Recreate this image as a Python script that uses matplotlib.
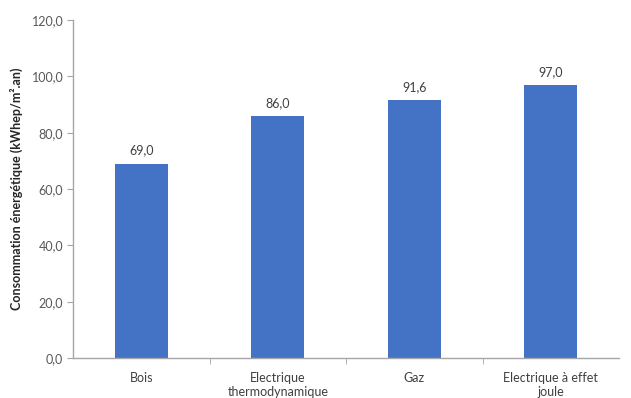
import matplotlib.pyplot as plt
from matplotlib.ticker import FixedLocator

categories = ["Bois", "Electrique\nthermodynamique", "Gaz", "Electrique à effet\njoule"]
values = [69.0, 86.0, 91.6, 97.0]
yticks = [0, 20, 40, 60, 80, 100, 120]


def fr(v):
    return f"{v:.1f}".replace(".", ",")


plt.rcParams['font.family'] = ['Lato', 'DejaVu Sans']

fig = plt.figure(figsize=(6.31, 3.98), dpi=100)
ax = fig.add_axes([73 / 631, 40 / 398, 546 / 631, 338 / 398])

x = list(range(len(categories)))
bars = ax.bar(x, values, width=0.39, color='#4472C4', zorder=2)
for b, v in zip(bars, values):
    ax.text(b.get_x() + b.get_width() / 2, v + 2.5, fr(v), ha='center', va='bottom',
            fontsize=9, color='#404040')

ax.set_xlim(-0.5, len(categories) - 0.5)
ax.set_ylim(0, 120)
ax.set_yticks(yticks)
ax.set_yticklabels([fr(t) for t in yticks], fontsize=9, color='#595959')

# category labels drawn as centred text under each bar
ax.set_xticks(x)
ax.set_xticklabels([])
ax.tick_params(axis='x', length=0)
for i, c in enumerate(categories):
    ax.text(i, -5, c, ha='center', va='top', multialignment='center',
            fontsize=9, color='#404040', linespacing=1.15)
ax.xaxis.set_minor_locator(FixedLocator([i + 0.5 for i in range(len(categories) - 1)]))
ax.tick_params(axis='x', which='minor', length=4, color='#A6A6A6')
ax.tick_params(axis='y', length=4, color='#A6A6A6', pad=3)

for s in ['top', 'right']:
    ax.spines[s].set_visible(False)
for s in ['left', 'bottom']:
    ax.spines[s].set_color('#A6A6A6')
    ax.spines[s].set_linewidth(1)

ax.set_ylabel("Consommation énergétique (kWhep/m².an)", fontsize=9,
              fontweight='bold', color='#262626', labelpad=6)

fig.savefig("out.png", dpi=100)
